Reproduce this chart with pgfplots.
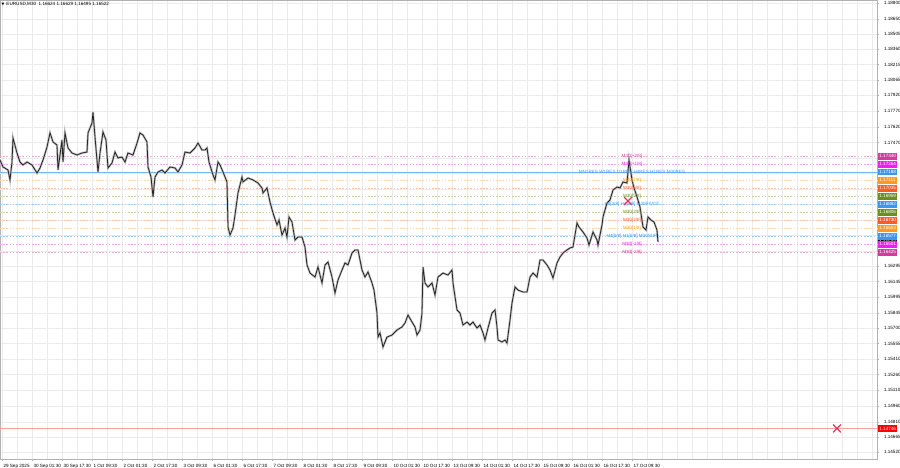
\documentclass[border=0pt]{standalone}
\usepackage{fontspec}
\setmainfont{Liberation Sans}
\newfontfamily\symfont{DejaVu Sans}
\usepackage{pgfplots}
\usepackage{pgfplotstable}
\pgfplotsset{compat=1.18}

\definecolor{mpink}{HTML}{D23C9B}
\definecolor{mmag}{HTML}{F21CF2}
\definecolor{mblue}{HTML}{3C96F0}
\definecolor{morange}{HTML}{FF9A1F}
\definecolor{mred}{HTML}{FF5A28}
\definecolor{molive}{HTML}{6B8E23}
\definecolor{xred}{HTML}{E8365A}
\definecolor{lowline}{HTML}{F4A0A0}

% EURUSD M30 closes, x = bar position on the chart
\pgfplotstableread{
x p
0 1.17304
3 1.17238
8 1.17209
10 1.17114
12 1.17285
13 1.17514
17 1.17371
20 1.17285
23 1.17257
27 1.17285
32 1.17257
37 1.17180
40 1.17228
43 1.17304
47 1.17428
50 1.17562
53 1.17476
57 1.17447
58 1.17209
62 1.17495
63 1.17285
65 1.17562
68 1.17419
72 1.17371
77 1.17352
82 1.17371
87 1.17380
88 1.17562
92 1.17657
93 1.17762
95 1.17523
98 1.17190
100 1.17371
103 1.17571
106 1.17495
108 1.17228
112 1.17276
115 1.17380
118 1.17323
122 1.17333
125 1.17285
128 1.17371
133 1.17352
137 1.17466
140 1.17562
143 1.17542
147 1.17476
148 1.17238
151 1.17142
153 1.16952
155 1.17142
158 1.17190
162 1.17209
165 1.17180
170 1.17238
175 1.17228
178 1.17190
182 1.17257
185 1.17380
190 1.17371
195 1.17419
198 1.17466
202 1.17400
205 1.17400
207 1.17419
209 1.17285
213 1.17161
215 1.17114
218 1.17285
220 1.17257
223 1.17190
227 1.17095
228 1.16666
230 1.16589
233 1.16656
235 1.16780
238 1.16990
242 1.17142
243 1.17095
248 1.17133
253 1.17114
258 1.17085
262 1.17038
263 1.16990
267 1.17038
270 1.16904
273 1.16799
277 1.16685
279 1.16732
282 1.16589
285 1.16656
287 1.16570
289 1.16761
292 1.16713
295 1.16542
298 1.16570
302 1.16570
305 1.16475
307 1.16304
310 1.16227
315 1.16189
318 1.16285
322 1.16132
325 1.16304
328 1.16332
332 1.16189
335 1.16037
338 1.16161
342 1.16256
345 1.16323
348 1.16304
352 1.16418
355 1.16447
358 1.16447
362 1.16256
365 1.16189
368 1.16237
372 1.16132
374 1.16065
377 1.15846
378 1.15617
380 1.15656
383 1.15522
387 1.15617
392 1.15636
397 1.15684
402 1.15713
405 1.15751
408 1.15827
412 1.15760
415 1.15713
417 1.15636
420 1.15684
422 1.15846
423 1.16285
425 1.16132
428 1.16094
432 1.16132
435 1.16018
438 1.16189
443 1.16227
448 1.16208
452 1.16256
453 1.16132
457 1.15875
460 1.15846
463 1.15732
467 1.15760
470 1.15732
473 1.15760
477 1.15703
480 1.15732
483 1.15656
485 1.15589
488 1.15703
492 1.15846
495 1.15875
497 1.15713
498 1.15589
502 1.15570
505 1.15589
507 1.15560
510 1.15779
512 1.15941
515 1.16094
518 1.16065
523 1.16046
527 1.16046
530 1.16189
533 1.16227
537 1.16189
540 1.16351
543 1.16351
547 1.16304
550 1.16256
553 1.16180
557 1.16323
560 1.16380
563 1.16418
567 1.16447
570 1.16466
573 1.16475
577 1.16704
579 1.16666
583 1.16618
587 1.16561
589 1.16494
593 1.16618
597 1.16542
598 1.16494
602 1.16685
603 1.16761
607 1.16894
610 1.16923
613 1.17018
617 1.17047
620 1.17038
623 1.17095
627 1.17085
629 1.17304
632 1.17114
634 1.17038
637 1.16952
640 1.16856
643 1.16666
646 1.16637
648 1.16761
651 1.16732
654 1.16713
657 1.16637
658 1.16522
}\eurusd

\pgfplotsset{
  lvl/.style={line width=0.6pt, dash pattern=on 1.6pt off 1.6pt},
}
\tikzset{
  tag/.style={anchor=west, text=white, inner xsep=1.2pt, inner ysep=0.6pt, minimum height=6.6pt},
}

\begin{document}
\begin{tikzpicture}
\begin{axis}[
  at={(0pt,9pt)}, anchor=south west,
  scale only axis, width=877pt, height=459pt,
  xmin=0, xmax=877, ymin=1.14455, ymax=1.18829,
  clip=false,
  font=\fontsize{4.6}{5.2}\selectfont,
  axis line style={gray!60, line width=0.6pt},
  xtick={2,32,...,632},
  xticklabels={29 Sep 2025,30 Sep 01:30,30 Sep 17:30,1 Oct 09:30,2 Oct 01:30,2 Oct 17:30,3 Oct 09:30,6 Oct 01:30,6 Oct 17:30,7 Oct 09:30,8 Oct 01:30,8 Oct 17:30,9 Oct 09:30,10 Oct 01:30,10 Oct 17:30,13 Oct 09:30,14 Oct 01:30,14 Oct 17:30,15 Oct 09:30,16 Oct 01:30,16 Oct 17:30,17 Oct 09:30},
  minor xtick={17,47,77,107,137,167,197,227,257,287,317,347,377,407,437,467,497,527,557,587,617,647,662,677,692,707,722,737,752,767,782,797,812,827,842,857,872},
  ytick={1.18800,1.18650,1.18505,1.18360,1.18215,1.18065,1.17920,1.17770,1.17620,1.17470,1.16295,1.16145,1.15995,1.15845,1.15700,1.15555,1.15410,1.15260,1.15110,1.14960,1.14810,1.14665,1.14520},
  yticklabels={1.18800,1.18650,1.18505,1.18360,1.18215,1.18065,1.17920,1.17770,1.17620,1.17470,1.16295,1.16145,1.15995,1.15845,1.15700,1.15555,1.15410,1.15260,1.15110,1.14960,1.14810,1.14665,1.14520},
  extra y ticks={1.17324,1.17176,1.17029,1.16881,1.16733,1.16586,1.16438},
  extra y tick labels={},
  extra y tick style={grid=major},
  xtick pos=bottom, ytick pos=right, yticklabel pos=right,
  tick align=outside, major tick length=2pt, minor tick length=0pt,
  tick style={gray!60, line width=0.4pt},
  grid=both,
  major grid style={gray!16, line width=0.4pt},
  minor grid style={gray!16, line width=0.4pt},
  xticklabel style={anchor=north west, xshift=-2pt, yshift=0.5pt},
  yticklabel style={anchor=west, xshift=1.5pt},
]
% murrey levels
\addplot[lvl, mpink!40] coordinates {(0,1.17340) (877,1.17340)};
\addplot[lvl, mmag!40] coordinates {(0,1.17264) (877,1.17264)};
\addplot[mblue!70, line width=1.1pt] coordinates {(0,1.17188) (877,1.17188)};
\addplot[lvl, morange!40] coordinates {(0,1.17111) (877,1.17111)};
\addplot[lvl, mred!38] coordinates {(0,1.17035) (877,1.17035)};
\addplot[lvl, molive!40] coordinates {(0,1.16959) (877,1.16959)};
\addplot[lvl, mblue!50] coordinates {(0,1.16882) (877,1.16882)};
\addplot[lvl, molive!40] coordinates {(0,1.16806) (877,1.16806)};
\addplot[lvl, mred!38] coordinates {(0,1.16730) (877,1.16730)};
\addplot[lvl, morange!40] coordinates {(0,1.16653) (877,1.16653)};
\addplot[lvl, mblue!50] coordinates {(0,1.16577) (877,1.16577)};
\addplot[lvl, mmag!40] coordinates {(0,1.16501) (877,1.16501)};
\addplot[lvl, mpink!40] coordinates {(0,1.16425) (877,1.16425)};
\addplot[lowline, line width=0.7pt] coordinates {(0,1.14746) (877,1.14746)};

% price
\addplot[gray!50, line width=2.2pt] table[x=x, y=p] {\eurusd};
\addplot[black!85, line width=0.8pt] table[x=x, y=p] {\eurusd};

% crosses
\addplot[only marks, mark=x, mark size=5.5pt, xred, mark options={line width=1.2pt}] coordinates {(628,1.16913) (837,1.14746)};

% level captions
\node[text=mpink] at (axis cs:632,1.17340) {M30[+2/8]};
\node[text=mmag] at (axis cs:632,1.17264) {M30[+1/8]};
\node[text=mblue] at (axis cs:632,1.17188) {MN1RES W1RES D1RES H4RES H1RES M30RES};
\node[text=morange] at (axis cs:632,1.17111) {M30[7/8]};
\node[text=mred] at (axis cs:632,1.17035) {M30[6/8]};
\node[text=molive] at (axis cs:632,1.16959) {M30[5/8]};
\node[text=mblue] at (axis cs:632,1.16882) {H4[4/8] H1[4/8] M30PIVOT};
\node[text=molive] at (axis cs:632,1.16806) {M30[3/8]};
\node[text=mred] at (axis cs:632,1.16730) {M30[2/8]};
\node[text=morange] at (axis cs:632,1.16653) {M30[1/8]};
\node[text=mblue] at (axis cs:632,1.16577) {H4[0/8] H1[0/8] M30SUP};
\node[text=mmag] at (axis cs:632,1.16501) {M30[-1/8]};
\node[text=mpink] at (axis cs:632,1.16425) {M30[-2/8]};

% price tags on the scale
\node[tag, fill=mpink] at (axis cs:878,1.17340) {1.17340};
\node[tag, fill=mmag] at (axis cs:878,1.17264) {1.17264};
\node[tag, fill=mblue] at (axis cs:878,1.17188) {1.17188};
\node[tag, fill=morange] at (axis cs:878,1.17111) {1.17111};
\node[tag, fill=mred] at (axis cs:878,1.17035) {1.17035};
\node[tag, fill=molive] at (axis cs:878,1.16959) {1.16959};
\node[tag, fill=mblue] at (axis cs:878,1.16882) {1.16882};
\node[tag, fill=molive] at (axis cs:878,1.16806) {1.16806};
\node[tag, fill=mred] at (axis cs:878,1.16730) {1.16730};
\node[tag, fill=morange] at (axis cs:878,1.16653) {1.16653};
\node[tag, fill=black] at (axis cs:878,1.16522) {1.16522};
\node[tag, fill=mblue] at (axis cs:878,1.16577) {1.16577};
\node[tag, fill=mmag] at (axis cs:878,1.16501) {1.16501};
\node[tag, fill=mpink] at (axis cs:878,1.16425) {1.16425};
\node[tag, fill=red] at (axis cs:878,1.14746) {1.14746};

% header
\node[anchor=north west, inner sep=0pt] at (rel axis cs:0,1) [xshift=1.5pt, yshift=-2pt] {{\symfont\fontsize{3.6}{4}\selectfont ▼}\hspace{2pt}EURUSD,M30\ \ 1.16624 1.16629 1.16495 1.16522};
\end{axis}
\pgfresetboundingbox
\path[use as bounding box] (0pt,0pt) rectangle (900pt,468pt);
\end{tikzpicture}
\end{document}
